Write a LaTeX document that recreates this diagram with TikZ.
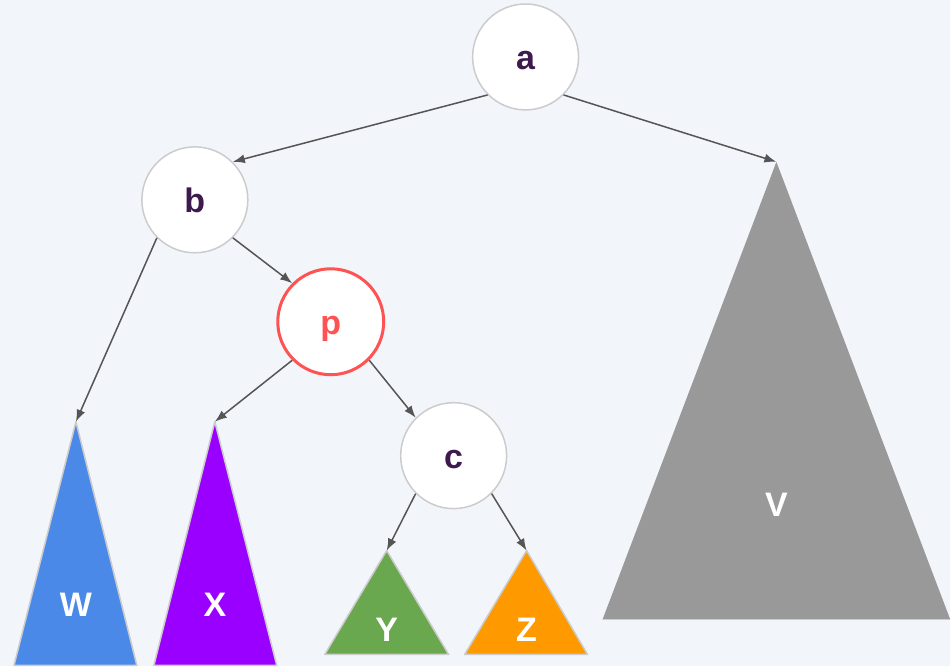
\documentclass[tikz,border=0pt]{standalone}
\usepackage{fontspec}
\setmainfont{Liberation Sans}
\usetikzlibrary{arrows.meta}
\definecolor{PageBg}{HTML}{F2F5FA}
\definecolor{NodeLine}{HTML}{CCCCCC}
\definecolor{KeyText}{HTML}{3C1A4E}
\definecolor{PivotRed}{HTML}{FF5252}
\definecolor{EdgeGray}{HTML}{555555}
\definecolor{TreeW}{HTML}{4A89E8}
\definecolor{TreeX}{HTML}{9900FF}
\definecolor{TreeY}{HTML}{6AA84F}
\definecolor{TreeZ}{HTML}{FF9900}
\definecolor{TreeV}{HTML}{999999}

\begin{document}
\begin{tikzpicture}[
x=1pt,y=-1pt,
vertex/.style={
circle,draw=NodeLine,line width=1.5pt,fill=white,
minimum size=106pt,inner sep=0pt,text height=25pt,text depth=0pt,
text=KeyText,font=\fontsize{34}{40}\selectfont\bfseries
},
pivot/.style={vertex,draw=PivotRed,line width=3pt,text=PivotRed},
subtree/.style={draw=NodeLine,line width=1.5pt,line join=round},
treelabel/.style={text=white,font=\fontsize{34}{40}\selectfont\bfseries},
arrow/.style={-{Latex[length=12pt,width=9pt]},line width=1.5pt,draw=EdgeGray}
]

% background
\fill[PageBg] (0,0) rectangle (951,667);

% nodes
\node[vertex] (a) at (526,57) {a};
\node[vertex] (b) at (195,200) {b};
\node[pivot] (p) at (331,322) {p};
\node[vertex] (c) at (454,456) {c};

% subtrees
\coordinate (wtop) at (76,422);
\coordinate (xtop) at (215,422);
\coordinate (ytop) at (387,551);
\coordinate (ztop) at (527,551);
\coordinate (vtop) at (777,162);

\draw[subtree,fill=TreeW] (wtop) -- (137,666) -- (14,666) -- cycle;
\draw[subtree,fill=TreeX] (xtop) -- (277,666) -- (154,666) -- cycle;
\draw[subtree,fill=TreeY] (ytop) -- (449,655) -- (325,655) -- cycle;
\draw[subtree,fill=TreeZ] (ztop) -- (588,655) -- (465,655) -- cycle;
\draw[subtree,draw=none,fill=TreeV] (vtop) -- (951,620) -- (603,620) -- cycle;
\draw[NodeLine,line width=1.5pt] (603,620) -- (951,620);

\node[treelabel] (w) at (76,605) {W};
\node[treelabel] (x) at (215,605) {X};
\node[treelabel] (y) at (387,630) {Y};
\node[treelabel] (z) at (527,630) {Z};
\node[treelabel] (v) at (777,505) {V};

% edges
\draw[arrow] (a.south west) -- (b.north east);
\draw[arrow] (a.south east) -- (vtop);
\draw[arrow] (b.south west) -- (wtop);
\draw[arrow] (b.south east) -- (p.north west);
\draw[arrow] (p.south west) -- (xtop);
\draw[arrow] (p.south east) -- (c.north west);
\draw[arrow] (c.south west) -- (ytop);
\draw[arrow] (c.south east) -- (ztop);

\end{tikzpicture}
\end{document}
